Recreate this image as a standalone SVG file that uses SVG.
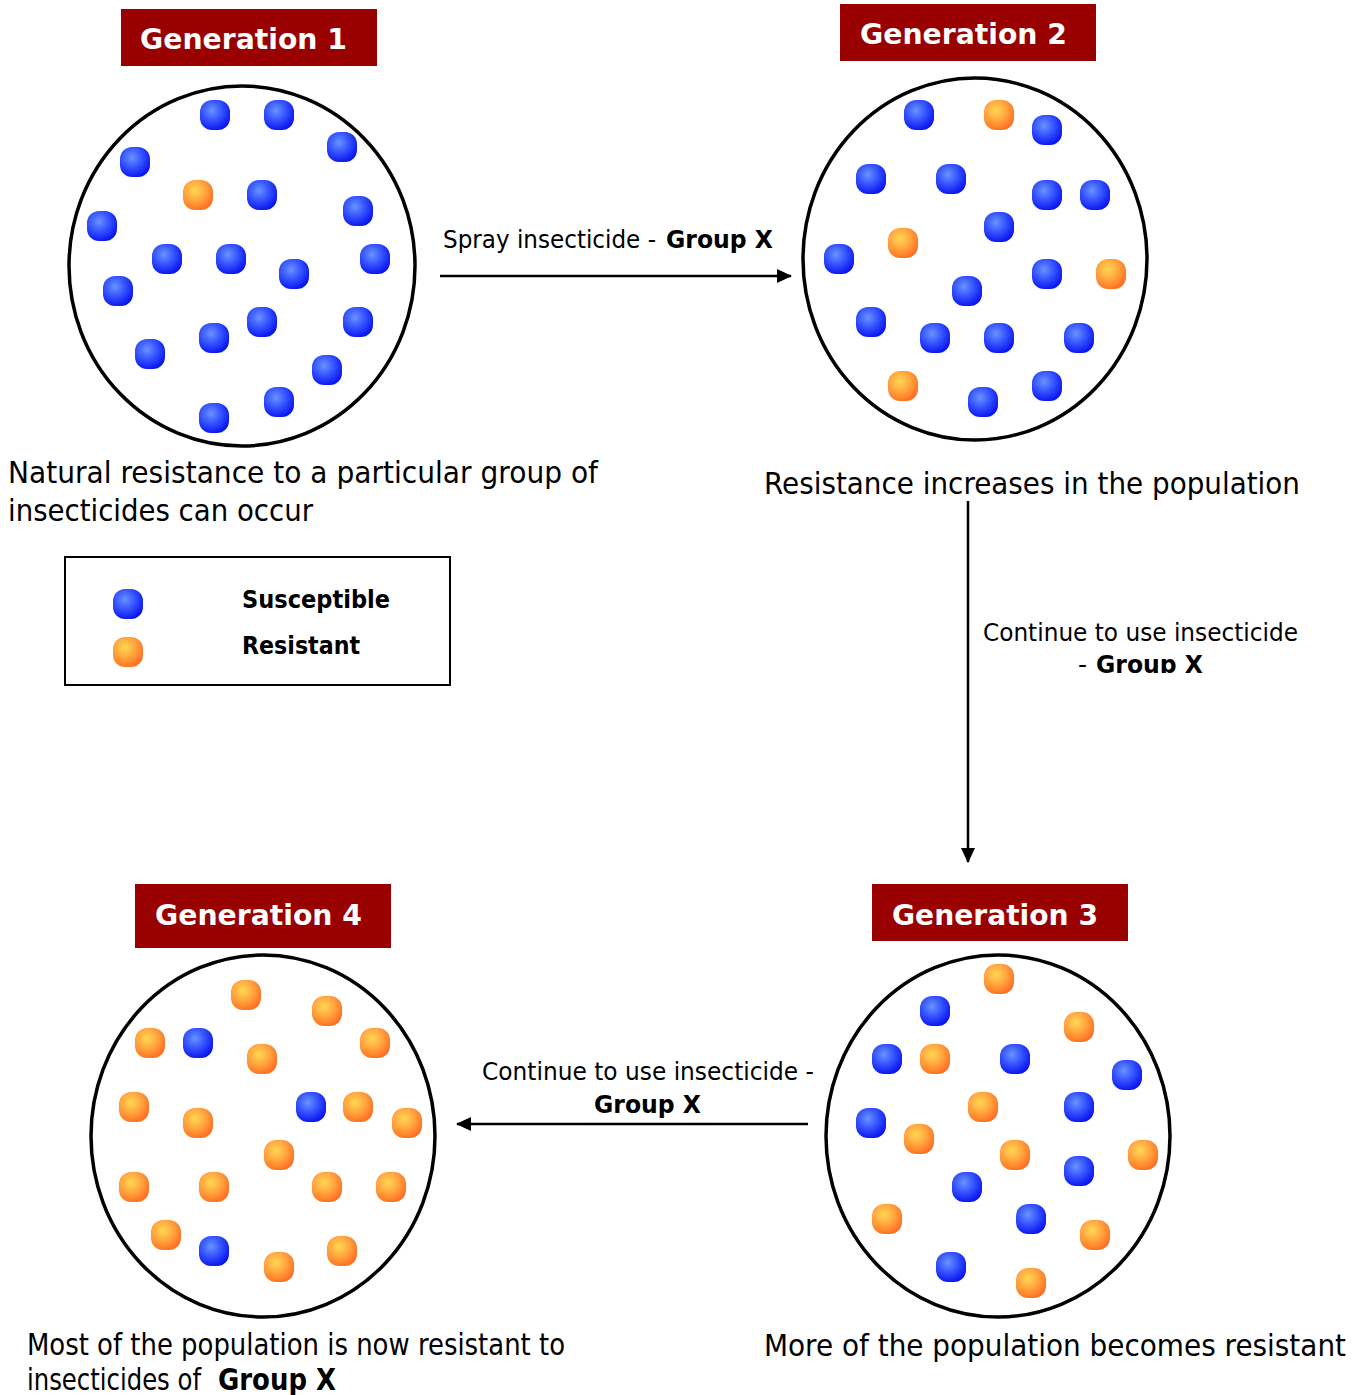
<svg xmlns="http://www.w3.org/2000/svg" xmlns:xlink="http://www.w3.org/1999/xlink" width="1366" height="1395" viewBox="0 0 1366 1395">
<style>
.pop{fill:none;stroke:#000;stroke-width:3.5}
.tbox{fill:#990000}
.ttl{font-family:"DejaVu Sans",Verdana,sans-serif;font-weight:bold;font-size:29px;fill:#fff}
.cap{font-family:"DejaVu Sans",Verdana,sans-serif;font-size:30px;fill:#000}
.lab{font-family:"DejaVu Sans",Verdana,sans-serif;font-size:25px;fill:#000}
.b{font-weight:bold}
.leg{font-family:"DejaVu Sans",Verdana,sans-serif;font-size:24px;font-weight:bold;fill:#000}
.con{stroke:#000;stroke-width:2.5;fill:none}
</style>
<defs>
<radialGradient id="gb" cx="0.4" cy="0.35" r="0.7">
<stop offset="0" stop-color="#6a92ff"/>
<stop offset="0.5" stop-color="#3352ff"/>
<stop offset="1" stop-color="#0810ee"/>
</radialGradient>
<radialGradient id="go" cx="0.4" cy="0.35" r="0.7">
<stop offset="0" stop-color="#ffd850"/>
<stop offset="0.5" stop-color="#ffa53e"/>
<stop offset="1" stop-color="#ff6a22"/>
</radialGradient>
<rect id="B" x="-15" y="-15" width="30" height="30" rx="12" fill="url(#gb)"/>
<rect id="O" x="-15" y="-15" width="30" height="30" rx="12" fill="url(#go)"/>
<marker id="ah" markerWidth="16" markerHeight="16" refX="14" refY="8" orient="auto" markerUnits="userSpaceOnUse">
<path d="M0,1 L15,8 L0,15 Z" fill="#000"/>
</marker>
<clipPath id="clipV"><rect x="970" y="600" width="390" height="73"/></clipPath>
<clipPath id="clipL"><rect x="230" y="580" width="200" height="77"/></clipPath>
</defs>
<rect width="1366" height="1395" fill="#fff"/>

<g id="gen1">
<rect class="tbox" x="121" y="9" width="256" height="57"/>
<text class="ttl" x="140" y="49" textLength="207" lengthAdjust="spacingAndGlyphs">Generation 1</text>
<ellipse class="pop" cx="242" cy="266" rx="173" ry="180"/>
<use href="#B" x="215" y="115"/><use href="#B" x="279" y="115"/><use href="#B" x="342" y="147"/>
<use href="#B" x="135" y="162"/><use href="#O" x="198" y="195"/><use href="#B" x="262" y="195"/>
<use href="#B" x="358" y="211"/><use href="#B" x="102" y="226"/><use href="#B" x="167" y="259"/>
<use href="#B" x="231" y="259"/><use href="#B" x="375" y="259"/><use href="#B" x="294" y="274"/>
<use href="#B" x="118" y="291"/><use href="#B" x="262" y="322"/><use href="#B" x="358" y="322"/>
<use href="#B" x="214" y="338"/><use href="#B" x="150" y="354"/><use href="#B" x="327" y="370"/>
<use href="#B" x="279" y="402"/><use href="#B" x="214" y="418"/>
<text class="cap" x="8" y="483" textLength="590" lengthAdjust="spacingAndGlyphs">Natural resistance to a particular group of</text>
<text class="cap" x="8" y="521" textLength="305" lengthAdjust="spacingAndGlyphs">insecticides can occur</text>
</g>

<g id="gen2">
<rect class="tbox" x="840" y="4" width="256" height="57"/>
<text class="ttl" x="860" y="44" textLength="207" lengthAdjust="spacingAndGlyphs">Generation 2</text>
<ellipse class="pop" cx="975" cy="259" rx="172" ry="181"/>
<use href="#B" x="919" y="115"/><use href="#O" x="999" y="115"/><use href="#B" x="1047" y="130"/>
<use href="#B" x="871" y="179"/><use href="#B" x="951" y="179"/><use href="#B" x="1047" y="195"/>
<use href="#B" x="1095" y="195"/><use href="#B" x="999" y="227"/><use href="#O" x="903" y="243"/>
<use href="#B" x="839" y="259"/><use href="#B" x="1047" y="274"/><use href="#O" x="1111" y="274"/>
<use href="#B" x="967" y="291"/><use href="#B" x="871" y="322"/><use href="#B" x="935" y="338"/>
<use href="#B" x="999" y="338"/><use href="#B" x="1079" y="338"/><use href="#O" x="903" y="386"/>
<use href="#B" x="983" y="402"/><use href="#B" x="1047" y="386"/>
<text class="cap" x="764" y="494" textLength="536" lengthAdjust="spacingAndGlyphs">Resistance increases in the population</text>
</g>

<g id="gen3">
<rect class="tbox" x="872" y="884" width="256" height="57"/>
<text class="ttl" x="892" y="925" textLength="206" lengthAdjust="spacingAndGlyphs">Generation 3</text>
<ellipse class="pop" cx="998" cy="1136" rx="172" ry="181"/>
<use href="#O" x="999" y="979"/><use href="#B" x="935" y="1011"/><use href="#O" x="1079" y="1027"/>
<use href="#B" x="887" y="1059"/><use href="#O" x="935" y="1059"/><use href="#B" x="1015" y="1059"/>
<use href="#B" x="1127" y="1075"/><use href="#O" x="983" y="1107"/><use href="#B" x="1079" y="1107"/>
<use href="#B" x="871" y="1123"/><use href="#O" x="919" y="1139"/><use href="#O" x="1015" y="1155"/>
<use href="#O" x="1143" y="1155"/><use href="#B" x="1079" y="1171"/><use href="#B" x="967" y="1187"/>
<use href="#O" x="887" y="1219"/><use href="#B" x="1031" y="1219"/><use href="#O" x="1095" y="1235"/>
<use href="#B" x="951" y="1267"/><use href="#O" x="1031" y="1283"/>
<text class="cap" x="764" y="1356" textLength="582" lengthAdjust="spacingAndGlyphs">More of the population becomes resistant</text>
</g>

<g id="gen4">
<rect class="tbox" x="135" y="884" width="256" height="64"/>
<text class="ttl" x="155" y="925" textLength="207" lengthAdjust="spacingAndGlyphs">Generation 4</text>
<ellipse class="pop" cx="263" cy="1136" rx="172" ry="181"/>
<use href="#O" x="246" y="995"/><use href="#O" x="327" y="1011"/><use href="#O" x="150" y="1043"/>
<use href="#B" x="198" y="1043"/><use href="#O" x="375" y="1043"/><use href="#O" x="262" y="1059"/>
<use href="#O" x="134" y="1107"/><use href="#B" x="311" y="1107"/><use href="#O" x="358" y="1107"/>
<use href="#O" x="407" y="1123"/><use href="#O" x="198" y="1123"/><use href="#O" x="279" y="1155"/>
<use href="#O" x="134" y="1187"/><use href="#O" x="214" y="1187"/><use href="#O" x="327" y="1187"/>
<use href="#O" x="391" y="1187"/><use href="#O" x="166" y="1235"/><use href="#B" x="214" y="1251"/>
<use href="#O" x="342" y="1251"/><use href="#O" x="279" y="1267"/>
<text class="cap" x="27" y="1355" textLength="538" lengthAdjust="spacingAndGlyphs">Most of the population is now resistant to</text>
<text class="cap" x="27" y="1390" textLength="174" lengthAdjust="spacingAndGlyphs">insecticides of</text>
<text class="cap b" x="218" y="1390" textLength="118" lengthAdjust="spacingAndGlyphs">Group X</text>
</g>

<g id="legend">
<rect x="65" y="557" width="385" height="128" fill="none" stroke="#000" stroke-width="2"/>
<use href="#B" x="128" y="604"/>
<use href="#O" x="128" y="652"/>
<g clip-path="url(#clipL)">
<text class="leg" x="242" y="608" textLength="148" lengthAdjust="spacingAndGlyphs">Susceptible</text>
<text class="leg" x="242" y="654" textLength="118" lengthAdjust="spacingAndGlyphs">Resistant</text>
</g>
</g>

<g id="connectors">
<line class="con" x1="440" y1="276" x2="791" y2="276" marker-end="url(#ah)"/>
<line class="con" x1="968" y1="501" x2="968" y2="862" marker-end="url(#ah)"/>
<line class="con" x1="808" y1="1124" x2="457" y2="1124" marker-end="url(#ah)"/>
<text class="lab" x="443" y="248" textLength="213" lengthAdjust="spacingAndGlyphs">Spray insecticide -</text>
<text class="lab b" x="666" y="248" textLength="107" lengthAdjust="spacingAndGlyphs">Group X</text>
<g clip-path="url(#clipV)">
<text class="lab" x="983" y="641" textLength="315" lengthAdjust="spacingAndGlyphs">Continue to use insecticide</text>
<text class="lab" x="1078" y="673">-</text>
<text class="lab b" x="1096" y="673" textLength="107" lengthAdjust="spacingAndGlyphs">Group X</text>
</g>
<text class="lab" x="482" y="1080" textLength="332" lengthAdjust="spacingAndGlyphs">Continue to use insecticide -</text>
<text class="lab b" x="594" y="1113" textLength="107" lengthAdjust="spacingAndGlyphs">Group X</text>
</g>
</svg>
